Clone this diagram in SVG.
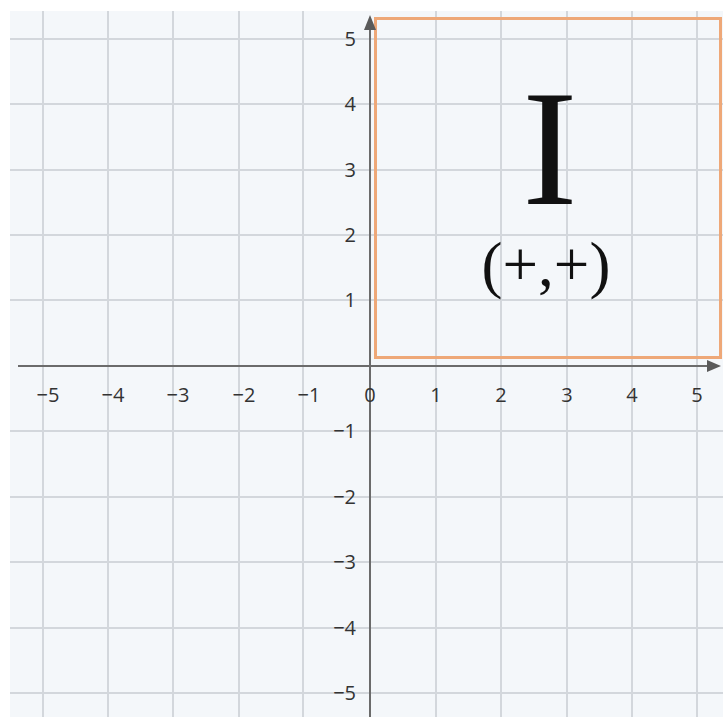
<svg xmlns="http://www.w3.org/2000/svg" width="723" height="717" viewBox="0 0 723 717">
<defs>
<style>
.grid line{stroke:#d3d7dc;stroke-width:2}
.axis{stroke:#6b6b6b;stroke-width:2;fill:none}
.arrow{fill:#5a5a5a}
.tick{font-family:"Open Sans","Noto Sans",sans-serif;font-size:20px;fill:#333333}
.xl{text-anchor:middle}
.yl{text-anchor:end}
.big{font-family:"Liberation Serif","Times New Roman",serif;fill:#111;text-anchor:middle}
</style>
</defs>
<rect width="723" height="717" fill="#ffffff"/>
<rect x="10" y="11" width="713" height="706" fill="#f4f7fa"/>
<g id="grid" class="grid">
<line x1="43" y1="11" x2="43" y2="717"/>
<line x1="108" y1="11" x2="108" y2="717"/>
<line x1="173" y1="11" x2="173" y2="717"/>
<line x1="239" y1="11" x2="239" y2="717"/>
<line x1="303" y1="11" x2="303" y2="717"/>
<line x1="436" y1="11" x2="436" y2="717"/>
<line x1="501" y1="11" x2="501" y2="717"/>
<line x1="567" y1="11" x2="567" y2="717"/>
<line x1="632" y1="11" x2="632" y2="717"/>
<line x1="697" y1="11" x2="697" y2="717"/>
<line x1="10" y1="39" x2="723" y2="39"/>
<line x1="10" y1="104" x2="723" y2="104"/>
<line x1="10" y1="170" x2="723" y2="170"/>
<line x1="10" y1="235" x2="723" y2="235"/>
<line x1="10" y1="300" x2="723" y2="300"/>
<line x1="10" y1="431" x2="723" y2="431"/>
<line x1="10" y1="497" x2="723" y2="497"/>
<line x1="10" y1="562" x2="723" y2="562"/>
<line x1="10" y1="628" x2="723" y2="628"/>
<line x1="10" y1="693" x2="723" y2="693"/>
</g>
<g id="quadrant-I">
<rect x="375.5" y="18.5" width="345" height="339" fill="none" stroke="#eea878" stroke-width="3"/>
<text class="big" x="550" y="204" font-size="166">I</text>
<text class="big" x="546" y="286" font-size="63">(+,+)</text>
</g>
<g id="axes">
<line class="axis" x1="18" y1="366" x2="708" y2="366"/>
<line class="axis" x1="370" y1="28" x2="370" y2="717"/>
<polygon class="arrow" points="721,366 707,360 707,372"/>
<polygon class="arrow" points="370,15 364,30 376,30"/>
</g>
<g id="x-labels" class="tick xl">
<text x="48" y="402">−5</text>
<text x="113" y="402">−4</text>
<text x="178" y="402">−3</text>
<text x="244" y="402">−2</text>
<text x="309" y="402">−1</text>
<text x="370" y="402">0</text>
<text x="436" y="402">1</text>
<text x="501" y="402">2</text>
<text x="567" y="402">3</text>
<text x="632" y="402">4</text>
<text x="697" y="402">5</text>
</g>
<g id="y-labels" class="tick yl">
<text x="356" y="46">5</text>
<text x="356" y="111">4</text>
<text x="356" y="177">3</text>
<text x="356" y="242">2</text>
<text x="356" y="307">1</text>
<text x="356" y="438">−1</text>
<text x="356" y="504">−2</text>
<text x="356" y="569">−3</text>
<text x="356" y="635">−4</text>
<text x="356" y="700">−5</text>
</g>
</svg>
